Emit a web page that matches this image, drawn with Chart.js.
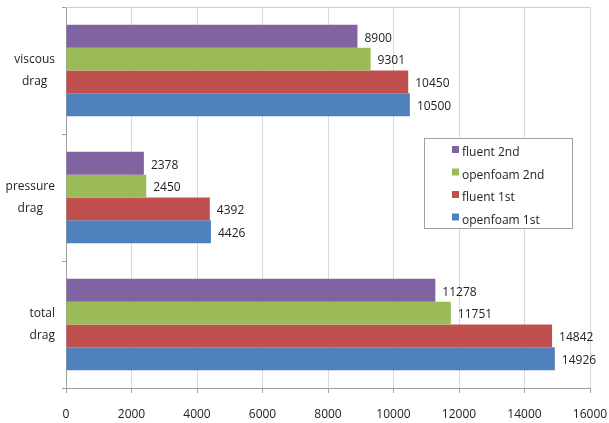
<!DOCTYPE html>
<html>
<head>
<meta charset="utf-8">
<script src="https://cdn.jsdelivr.net/npm/chart.js@4"></script>
<style>
  html, body { margin: 0; padding: 0; background: #fff; }
  #wrap { width: 609px; height: 423px; position: relative; }
</style>
</head>
<body>
<div id="wrap"><canvas id="chart"></canvas></div>
<script>
// Data
const categories = [["viscous", "drag"], ["pressure", "drag"], ["total", "drag"]];
const seriesNames = ["fluent 2nd", "openfoam 2nd", "fluent 1st", "openfoam 1st"];
const fluent2nd = [8900, 2378, 11278];
const openfoam2nd = [9301, 2450, 11751];
const fluent1st = [10450, 4392, 14842];
const openfoam1st = [10500, 4426, 14926];
const xTicks = [0, 2000, 4000, 6000, 8000, 10000, 12000, 14000, 16000];

const colors = ["#8064A2", "#9BBB59", "#C0504D", "#4F81BD"];
const textColor = "#222";
const fontFamily = "'Open Sans', 'Noto Sans', sans-serif";

// Category labels: block right-aligned, lines centered inside block
const categoryLabels = {
    id: "categoryLabels",
    afterDraw(chart) {
        const ctx = chart.ctx;
        const yScale = chart.scales.y;
        ctx.save();
        ctx.font = "12px " + fontFamily;
        ctx.fillStyle = textColor;
        ctx.textAlign = "center";
        ctx.textBaseline = "middle";
        categories.forEach((lines, i) => {
            const cy = yScale.getPixelForValue(i);
            const w = Math.max(...lines.map(l => ctx.measureText(l).width));
            const cx = 55 - w / 2;
            const lh = 22;
            lines.forEach((line, j) => {
                ctx.fillText(line, cx, cy + (j - (lines.length - 1) / 2) * lh);
            });
        });
        ctx.restore();
    }
};

// Value labels next to bar ends
const valueLabels = {
    id: "valueLabels",
    afterDatasetsDraw(chart) {
        const ctx = chart.ctx;
        ctx.save();
        ctx.font = "12px " + fontFamily;
        ctx.fillStyle = textColor;
        ctx.textAlign = "left";
        ctx.textBaseline = "middle";
        chart.data.datasets.forEach((ds, i) => {
            chart.getDatasetMeta(i).data.forEach((bar, j) => {
                ctx.fillText(ds.data[j], bar.x + 7, bar.y + 2);
            });
        });
        ctx.restore();
    }
};

// Top border line + boxed legend inside plot
const boxLegend = {
    id: "boxLegend",
    afterDraw(chart) {
        const ctx = chart.ctx;
        const area = chart.chartArea;
        ctx.save();
        ctx.strokeStyle = "#c8d0d8";
        ctx.lineWidth = 1;
        ctx.beginPath();
        ctx.moveTo(area.left, area.top + 0.5);
        ctx.lineTo(area.right, area.top + 0.5);
        ctx.stroke();

        const x = 424.5, y = 138.5, w = 148, h = 90;
        ctx.fillStyle = "#fff";
        ctx.fillRect(x, y, w, h);
        ctx.strokeStyle = "#a0a0a0";
        ctx.strokeRect(x, y, w, h);
        ctx.font = "12px " + fontFamily;
        ctx.textAlign = "left";
        ctx.textBaseline = "middle";
        chart.data.datasets.forEach((ds, i) => {
            const ry = 152 + i * 22.5;
            ctx.fillStyle = ds.backgroundColor;
            ctx.fillRect(452, ry - 6, 7, 7);
            ctx.fillStyle = textColor;
            ctx.fillText(ds.label, 462, ry + 1);
        });
        ctx.restore();
    }
};

const datasets = [fluent2nd, openfoam2nd, fluent1st, openfoam1st].map((data, i) => ({
    label: seriesNames[i],
    data: data,
    backgroundColor: colors[i],
    borderWidth: 0,
    categoryPercentage: 0.72,
    barPercentage: 1.0
}));

new Chart(document.getElementById("chart"), {
    type: "bar",
    data: {
        labels: categories.map(c => c.join(" ")),
        datasets: datasets
    },
    options: {
        indexAxis: "y",
        responsive: true,
        maintainAspectRatio: false,
        animation: false,
        layout: { padding: { top: 7, right: 19, left: 0, bottom: 0 } },
        plugins: {
            legend: { display: false },
            tooltip: { enabled: false }
        },
        scales: {
            x: {
                min: 0,
                max: 16000,
                afterBuildTicks: (scale) => { scale.ticks = xTicks.map(v => ({ value: v })); },
                afterFit: (scale) => {
                    scale.height = 35;
                    scale.paddingRight = 0;
                    scale.paddingLeft = 0;
                },
                grid: { color: "#d9d9d9", tickLength: 5, tickColor: "#a0a0a0" },
                border: { color: "#a0a0a0" },
                ticks: {
                    color: textColor,
                    font: { size: 12, family: fontFamily },
                    padding: 14,
                    maxRotation: 0,
                    callback: (value) => String(value)
                }
            },
            y: {
                afterFit: (scale) => { scale.width = 66; },
                grid: { drawOnChartArea: false, tickLength: 4, color: "#a0a0a0", offset: true },
                border: { color: "#a0a0a0" },
                ticks: { display: false }
            }
        }
    },
    plugins: [categoryLabels, valueLabels, boxLegend]
});
</script>
</body>
</html>
